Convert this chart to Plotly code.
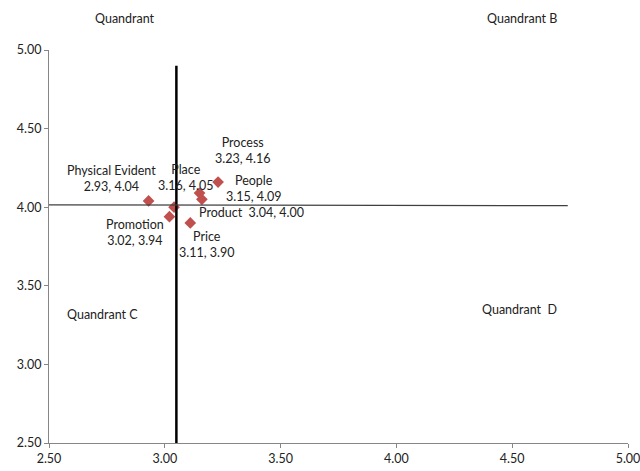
import plotly.graph_objects as go

# Marketing-mix elements: mean performance (x) vs mean importance (y)
names = ["Physical Evident", "Place", "Process", "People", "Product", "Promotion", "Price"]
x_vals = [2.93, 3.16, 3.23, 3.15, 3.04, 3.02, 3.11]
y_vals = [4.04, 4.05, 4.16, 4.09, 4.00, 3.94, 3.90]

# Quadrant dividers
x_divider = 3.05
y_divider = 4.015

tick_vals = [2.5, 3.0, 3.5, 4.0, 4.5, 5.0]
tick_text = ["2.50", "3.00", "3.50", "4.00", "4.50", "5.00"]

# Label offsets (pixels) relative to each point, and line layout
label_shift = {
    "Physical Evident": (-37, 22, "br"),
    "Place": (-16, 22, "br"),
    "Process": (24, 32, "br"),
    "People": (54, 5, "br"),
    "Product": (77, -5, "sp"),
    "Promotion": (-34, -16, "br"),
    "Price": (16, -22, "br"),
}

FONT = "Lato"
TXT = "#222222"
FS = 12.5

fig = go.Figure()

fig.add_trace(go.Scatter(
    x=x_vals, y=y_vals, mode="markers",
    marker=dict(symbol="diamond", size=9, color="#C0504D"),
    hoverinfo="skip", showlegend=False,
))

annotations = []
for n, xv, yv in zip(names, x_vals, y_vals):
    dx, dy, mode = label_shift[n]
    val = f"{xv:.2f}, {yv:.2f}"
    text = f"{n}<br>{val}" if mode == "br" else f"{n}  {val}"
    annotations.append(dict(
        x=xv, y=yv, xref="x", yref="y", text=text, showarrow=False,
        xshift=dx, yshift=dy, align="center",
        xanchor="center", yanchor="middle",
        font=dict(family=FONT, size=FS, color=TXT),
    ))

# Quadrant labels
for txt, xx, yy, ref in [
    ("Quandrant", 0.131, 1.081, "paper"),
    ("Quandrant B", 0.817, 1.081, "paper"),
    ("Quandrant C", 2.733, 3.32, "data"),
    ("Quandrant  D", 4.53, 3.35, "data"),
]:
    annotations.append(dict(
        x=xx, y=yy,
        xref="paper" if ref == "paper" else "x",
        yref="paper" if ref == "paper" else "y",
        xanchor="center", yanchor="middle",
        text=txt, showarrow=False,
        font=dict(family=FONT, size=FS, color=TXT),
    ))

shapes = [
    dict(type="line", xref="x", yref="y", x0=x_divider, x1=x_divider, y0=2.5, y1=4.90,
         line=dict(color="black", width=2.5)),
    dict(type="line", xref="x", yref="y", x0=2.5, x1=4.74, y0=y_divider, y1=y_divider - 0.005,
         line=dict(color="#404040", width=1.2)),
]

axis_common = dict(
    range=[2.5, 5.0], tickvals=tick_vals, ticktext=tick_text,
    showgrid=False, zeroline=False, showline=True, linecolor="#868686", linewidth=1,
    ticks="outside", ticklen=4, tickcolor="#868686", automargin=False,
    ticklabeloverflow="allow",
    tickfont=dict(family=FONT, size=FS, color=TXT),
)

fig.update_layout(
    width=640, height=471,
    margin=dict(l=49, r=12, t=50, b=28),
    plot_bgcolor="white", paper_bgcolor="white",
    xaxis=dict(**axis_common),
    yaxis=dict(**axis_common),
    annotations=annotations, shapes=shapes,
    showlegend=False,
)

fig.write_html("out.html")
